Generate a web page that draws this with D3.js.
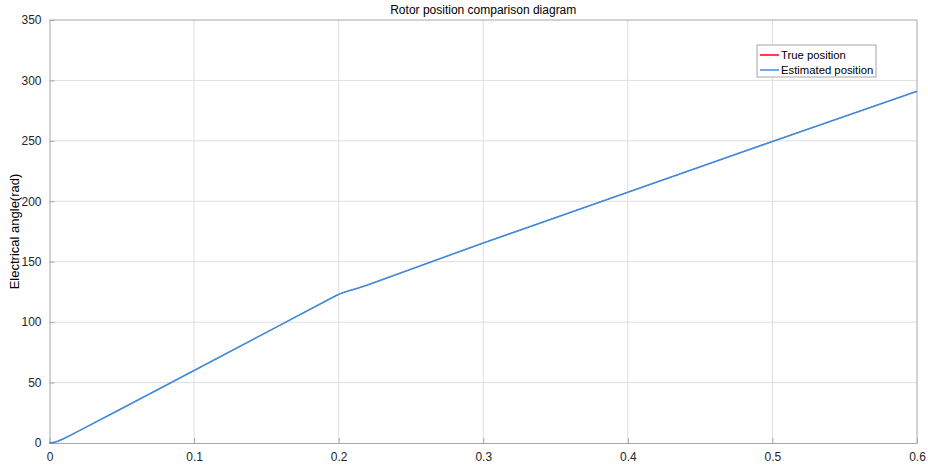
<!DOCTYPE html>
<html>
<head>
<meta charset="utf-8">
<script src="https://cdn.jsdelivr.net/npm/d3@7"></script>
<style>
  body { margin: 0; background: #fff; }
  svg { font-family: "Liberation Sans", Arial, sans-serif; }
</style>
</head>
<body>
<div id="chart"></div>
<script>
// time (s) and rotor electrical angle (rad)
const times = [0, 0.003, 0.006, 0.01, 0.015, 0.02, 0.05, 0.1, 0.15, 0.198, 0.202, 0.206, 0.212, 0.22, 0.3, 0.4, 0.5, 0.6];
const trueAngle = [0, 0.3, 1.4, 3.5, 6.6, 9.8, 28.5, 60, 91.5, 121.8, 124.0, 125.6, 127.6, 130.8, 165.5, 207.5, 249.5, 291];
const estAngle = [0, 0.5, 1.7, 3.7, 6.7, 9.8, 28.5, 60, 91.5, 121.8, 124.0, 125.6, 127.6, 130.8, 165.5, 207.5, 249.5, 291];
const seriesNames = ["True position", "Estimated position"];
const seriesColors = ["#ff0000", "#3d8ee0"];
const xTicks = [0, 0.1, 0.2, 0.3, 0.4, 0.5, 0.6];
const yTicks = [0, 50, 100, 150, 200, 250, 300, 350];

const W = 928, H = 465;
const margin = { top: 20, right: 11, bottom: 22, left: 49.5 };
const width = W - margin.left - margin.right,
    height = H - margin.top - margin.bottom;

const svg = d3.select("#chart").append("svg")
    .attr("width", W).attr("height", H);

const g = svg.append("g")
    .attr("transform", `translate(${margin.left},${margin.top})`);

const x = d3.scaleLinear().domain([0, 0.6]).range([0, width]);
const y = d3.scaleLinear().domain([0, 350]).range([height, 0]);

/* grid */
g.append("g").selectAll("line").data(xTicks.slice(1, -1)).join("line")
    .attr("x1", d => x(d)).attr("x2", d => x(d))
    .attr("y1", 0).attr("y2", height)
    .attr("stroke", "#dfdfdf").attr("stroke-width", 1);
g.append("g").selectAll("line").data(yTicks.slice(1, -1)).join("line")
    .attr("y1", d => y(d)).attr("y2", d => y(d))
    .attr("x1", 0).attr("x2", width)
    .attr("stroke", "#dfdfdf").attr("stroke-width", 1);

/* axes, ticks pointing inward */
const xAxis = g.append("g")
    .attr("transform", `translate(0,${height})`)
    .call(d3.axisBottom(x).tickValues(xTicks).tickFormat(d3.format("")).tickSizeInner(-5).tickSizeOuter(0).tickPadding(9));
const yAxis = g.append("g")
    .call(d3.axisLeft(y).tickValues(yTicks).tickSizeInner(-5).tickSizeOuter(0).tickPadding(8));
[xAxis, yAxis].forEach(a => {
    a.select(".domain").attr("stroke", "#a6a6a6");
    a.selectAll(".tick line").attr("stroke", "#a6a6a6");
    a.selectAll(".tick text").attr("fill", "#262626").style("font-size", "12px");
});

/* box top/right */
g.append("line").attr("x1", 0).attr("x2", width).attr("y1", 0).attr("y2", 0).attr("stroke", "#a6a6a6");
g.append("line").attr("x1", width).attr("x2", width).attr("y1", 0).attr("y2", height).attr("stroke", "#a6a6a6");

/* lines: red underneath, thinner, so the estimate hides it */
const line = d3.line().x(d => x(d[0])).y(d => y(d[1]));
[trueAngle, estAngle].forEach((vals, i) => {
    g.append("path")
        .datum(times.map((t, j) => [t, vals[j]]))
        .attr("d", line)
        .attr("fill", "none")
        .attr("stroke", seriesColors[i])
        .attr("stroke-width", i === 0 ? 0.8 : 1.6);
});

/* title and label */
svg.append("text").attr("x", margin.left + width / 2).attr("y", 14)
    .attr("text-anchor", "middle").style("font-size", "12px").attr("fill", "#000")
    .text("Rotor position comparison diagram");
svg.append("text")
    .attr("transform", `translate(19,${margin.top + height / 2}) rotate(-90)`)
    .attr("text-anchor", "middle").style("font-size", "13px").attr("fill", "#000")
    .text("Electrical angle(rad)");

/* legend */
const lg = svg.append("g").attr("transform", "translate(757,45)");
lg.append("rect").attr("width", 119).attr("height", 32)
    .attr("fill", "#fff").attr("stroke", "#a6a6a6");
seriesNames.forEach((name, i) => {
    const yy = 10 + i * 15;
    lg.append("line").attr("x1", 3).attr("x2", 22).attr("y1", yy).attr("y2", yy)
        .attr("stroke", seriesColors[i]).attr("stroke-width", 1.5);
    lg.append("text").attr("x", 24).attr("y", yy + 4)
        .style("font-size", "11.3px").attr("fill", "#000").text(name);
});
</script>
</body>
</html>
